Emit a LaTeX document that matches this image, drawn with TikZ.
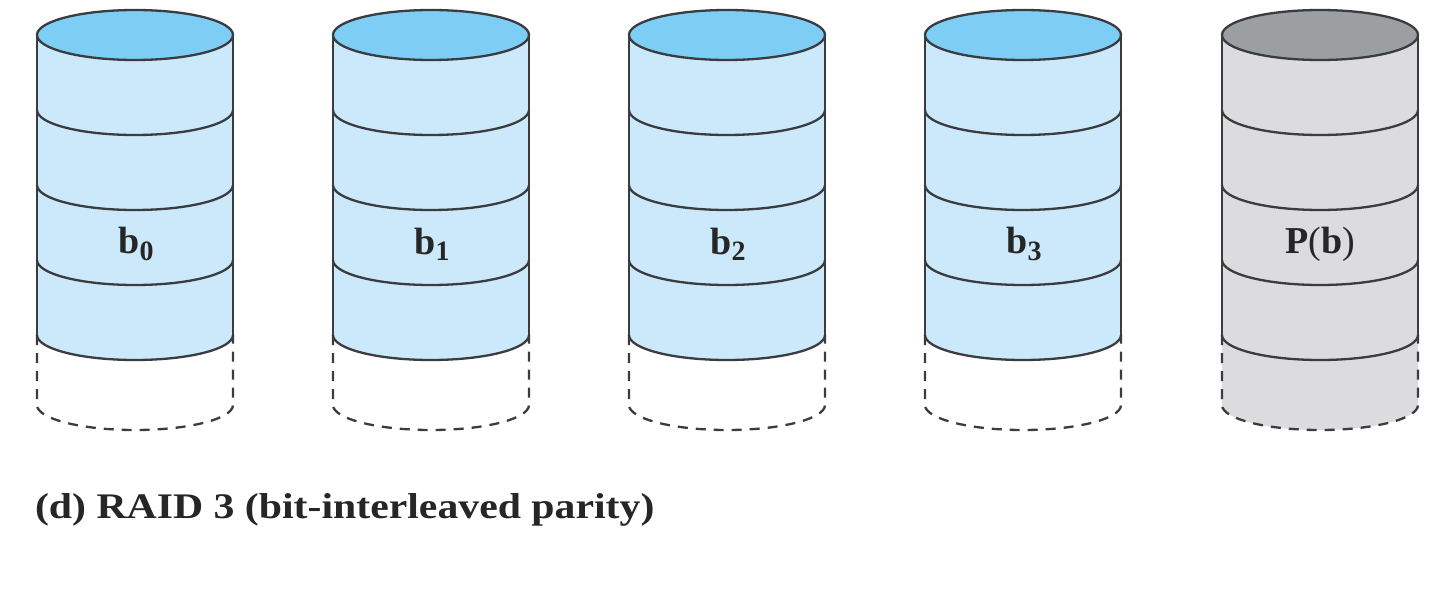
\documentclass[tikz,border=0pt]{standalone}
\usepackage{fontspec}
\usepackage{graphicx}
\setmainfont{Liberation Serif}
\definecolor{bluetop}{HTML}{7DCDF4}
\definecolor{bluebody}{HTML}{CBE9FA}
\definecolor{graytop}{HTML}{9C9FA2}
\definecolor{graybody}{HTML}{DCDCDE}
\definecolor{edge}{HTML}{3A3C40}
\tikzset{
  edgeline/.style={draw=edge, line width=1.15pt},
  dashline/.style={draw=edge, line width=1.15pt, dash pattern=on 5pt off 4pt},
  disklabel/.style={font=\fontsize{19}{22}\selectfont, text=black!85},
  caption/.style={font=\fontsize{18}{22}\selectfont\bfseries, text=black!85, anchor=west}
}
\newcommand{\diskcyl}[4]{% cx, top color, body color, lower fill
  \begin{scope}[shift={(#1,0)}]
    % dashed lower part
    \path[fill=#4] (-98,255) -- (-98,185) arc[start angle=180,end angle=360,x radius=98,y radius=25] -- (98,255) arc[start angle=0,end angle=-180,x radius=98,y radius=25] -- cycle;
    \draw[dashline] (-98,255) -- (-98,185) arc[start angle=180,end angle=360,x radius=98,y radius=25] -- (98,255);
    % body
    \path[fill=#3] (-98,555) -- (-98,255) arc[start angle=180,end angle=360,x radius=98,y radius=25] -- (98,555) -- cycle;
    \draw[edgeline] (-98,555) -- (-98,255);
    \draw[edgeline] (98,555) -- (98,255);
    \foreach \yy in {480,405,330,255}{
      \draw[edgeline] (-98,\yy) arc[start angle=180,end angle=360,x radius=98,y radius=25];
    }
    \draw[edgeline, fill=#2] (0,555) ellipse[x radius=98, y radius=25];
  \end{scope}
}
\begin{document}
\begin{tikzpicture}[x=0.5pt,y=0.5pt]
\useasboundingbox[fill=white] (0,0) rectangle (1440,590);
\diskcyl{135}{bluetop}{bluebody}{white}
\diskcyl{431}{bluetop}{bluebody}{white}
\diskcyl{727}{bluetop}{bluebody}{white}
\diskcyl{1023}{bluetop}{bluebody}{white}
\diskcyl{1320}{graytop}{graybody}{graybody}
\node[disklabel] (l0) at (136,346) {\textbf{b}\raisebox{-0.35ex}{\fontsize{14}{16}\selectfont\textbf{0}}};
\node[disklabel] (l1) at (432,346) {\textbf{b}\raisebox{-0.35ex}{\fontsize{14}{16}\selectfont\textbf{1}}};
\node[disklabel] (l2) at (728,346) {\textbf{b}\raisebox{-0.35ex}{\fontsize{14}{16}\selectfont\textbf{2}}};
\node[disklabel] (l3) at (1024,346) {\textbf{b}\raisebox{-0.35ex}{\fontsize{14}{16}\selectfont\textbf{3}}};
\node[disklabel] (lp) at (1320,346) {\textbf{P}(\textbf{b})};
\node[caption] (cap) at (28,80) {\scalebox{1.16}[1]{(d) RAID 3 (bit-interleaved parity)}};
\end{tikzpicture}
\end{document}
